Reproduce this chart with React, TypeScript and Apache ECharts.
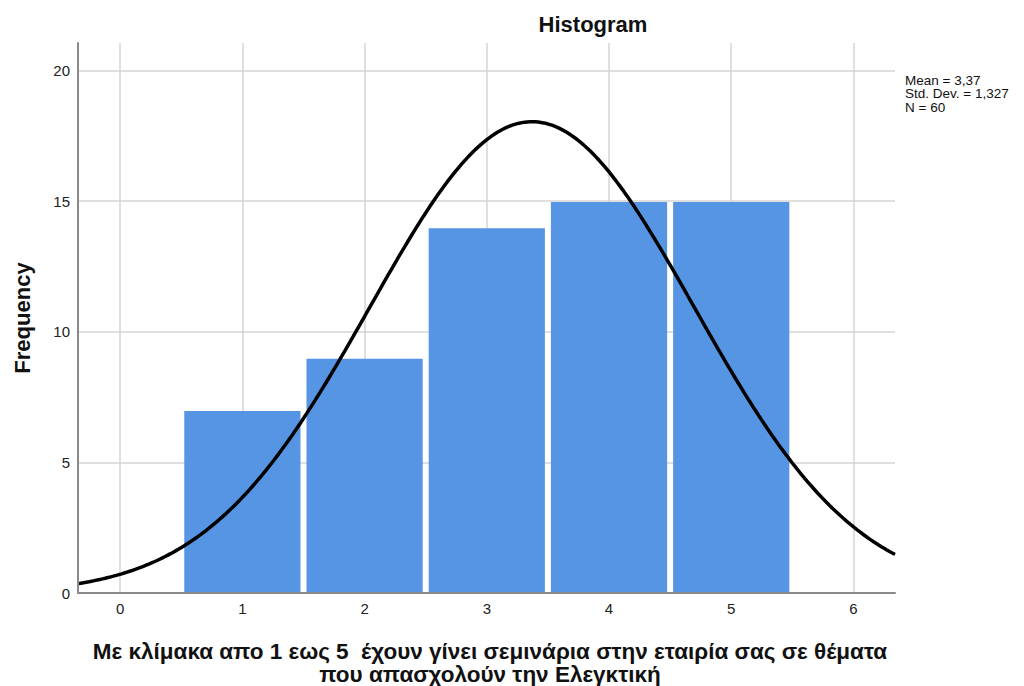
import React, { useEffect, useRef } from "react";
import * as echarts from "echarts";

const binCenters = [1, 2, 3, 4, 5];
const frequencies = [7, 9, 14, 15, 15];
const xTickValues = [0, 1, 2, 3, 4, 5, 6];
const yTickValues = [0, 5, 10, 15, 20];
const mean = 3.37;
const stdDev = 1.327;
const nCount = 60;
const binWidth = 1;
const statsLines = ["Mean = 3,37", "Std. Dev. = 1,327", "N = 60"];
const titleText = "Histogram";
const yName = "Frequency";
const xNameLines = [
  "Με κλίμακα απο 1 εως 5  έχουν γίνει σεμινάρια στην εταιρία σας σε θέματα",
  "που απασχολούν την Ελεγκτική",
];

const xMin = -0.345;
const xMax = 6.34;
const yMax = 21.05;

function normalCurve(): number[][] {
  const pts: number[][] = [];
  const steps = 300;
  for (let i = 0; i <= steps; i++) {
    const x = xMin + ((xMax - xMin) * i) / steps;
    const z = (x - mean) / stdDev;
    const y = (nCount * binWidth) / (stdDev * Math.sqrt(2 * Math.PI)) * Math.exp(-0.5 * z * z);
    pts.push([x, y]);
  }
  return pts;
}

export default function App() {
  const ref = useRef<HTMLDivElement>(null);
  useEffect(() => {
    if (!ref.current) return;
    const chart = echarts.init(ref.current, null, { renderer: "svg" });
    const font = "'Liberation Sans', Arial, sans-serif";
    const gridColor = "#d4d4d4";
    const markLines: any[] = [
      ...xTickValues.map((v) => [
        { coord: [v, 0] },
        { coord: [v, yMax] },
      ]),
      ...yTickValues.filter((v) => v > 0).map((v) => [
        { coord: [xMin, v] },
        { coord: [xMax, v] },
      ]),
    ];
    chart.setOption({
      animation: false,
      textStyle: { fontFamily: font },
      grid: { left: 78, right: 129, top: 43, bottom: 93, containLabel: false },
      xAxis: {
        type: "value",
        min: xMin,
        max: xMax,
        z: 5,
        axisLine: { show: true, onZero: false, lineStyle: { color: "#8a8a8a", width: 2 } },
        axisTick: { show: false, customValues: xTickValues },
        axisLabel: { customValues: xTickValues, color: "#222", fontSize: 15, margin: 8, fontFamily: font },
        splitLine: { show: false },
      },
      yAxis: {
        type: "value",
        min: 0,
        max: yMax,
        z: 5,
        axisLine: { show: true, onZero: false, lineStyle: { color: "#8a8a8a", width: 2 } },
        axisTick: { show: false, customValues: yTickValues },
        axisLabel: { customValues: yTickValues, color: "#222", fontSize: 15, margin: 8, fontFamily: font },
        splitLine: { show: false },
      },
      graphic: [
        {
          type: "text",
          x: 593,
          y: 24,
          style: { text: titleText, font: `bold 22px ${font}`, fill: "#111", textAlign: "center", textVerticalAlign: "middle" },
        },
        {
          type: "text",
          x: 22,
          y: 318,
          rotation: Math.PI / 2,
          style: { text: yName, font: `bold 22px ${font}`, fill: "#111", textAlign: "center", textVerticalAlign: "middle" },
        },
        {
          type: "text",
          x: 490,
          y: 651,
          style: { text: xNameLines[0], font: `bold 22.5px ${font}`, fill: "#111", textAlign: "center", textVerticalAlign: "middle" },
        },
        {
          type: "text",
          x: 490,
          y: 674,
          style: { text: xNameLines[1], font: `bold 22.5px ${font}`, fill: "#111", textAlign: "center", textVerticalAlign: "middle" },
        },
        ...statsLines.map((t, i) => ({
          type: "text",
          x: 905,
          y: 80 + i * 13.5,
          style: { text: t, font: `13.5px ${font}`, fill: "#111", textVerticalAlign: "middle" },
        })),
      ],
      series: [
        {
          type: "line",
          data: [],
          z: 1,
          silent: true,
          markLine: {
            silent: true,
            z: 1,
            symbol: ["none", "none"],
            label: { show: false },
            lineStyle: { color: gridColor, width: 1.5, type: "solid" },
            emphasis: { disabled: true },
            data: markLines,
          },
        },
        {
          type: "custom",
          data: binCenters.map((c, i) => [c, frequencies[i]]),
          renderItem: (params: any, api: any) => {
            const c = api.value(0);
            const f = api.value(1);
            const p0 = api.coord([c - binWidth / 2, f]);
            const p1 = api.coord([c + binWidth / 2, 0]);
            return {
              type: "rect",
              shape: { x: p0[0] + 3, y: p0[1] + 1, width: p1[0] - p0[0] - 6, height: p1[1] - p0[1] - 1 },
              style: { fill: "#5595e3" },
            };
          },
          z: 3,
        },
        {
          type: "line",
          data: normalCurve(),
          showSymbol: false,
          symbol: "none",
          lineStyle: { color: "#000", width: 3.5 },
          z: 4,
          clip: true,
        },
      ],
    });
    return () => chart.dispose();
  }, []);
  return <div ref={ref} style={{ width: 1024, height: 686, position: "absolute", left: 0, top: 0 }} />;
}
